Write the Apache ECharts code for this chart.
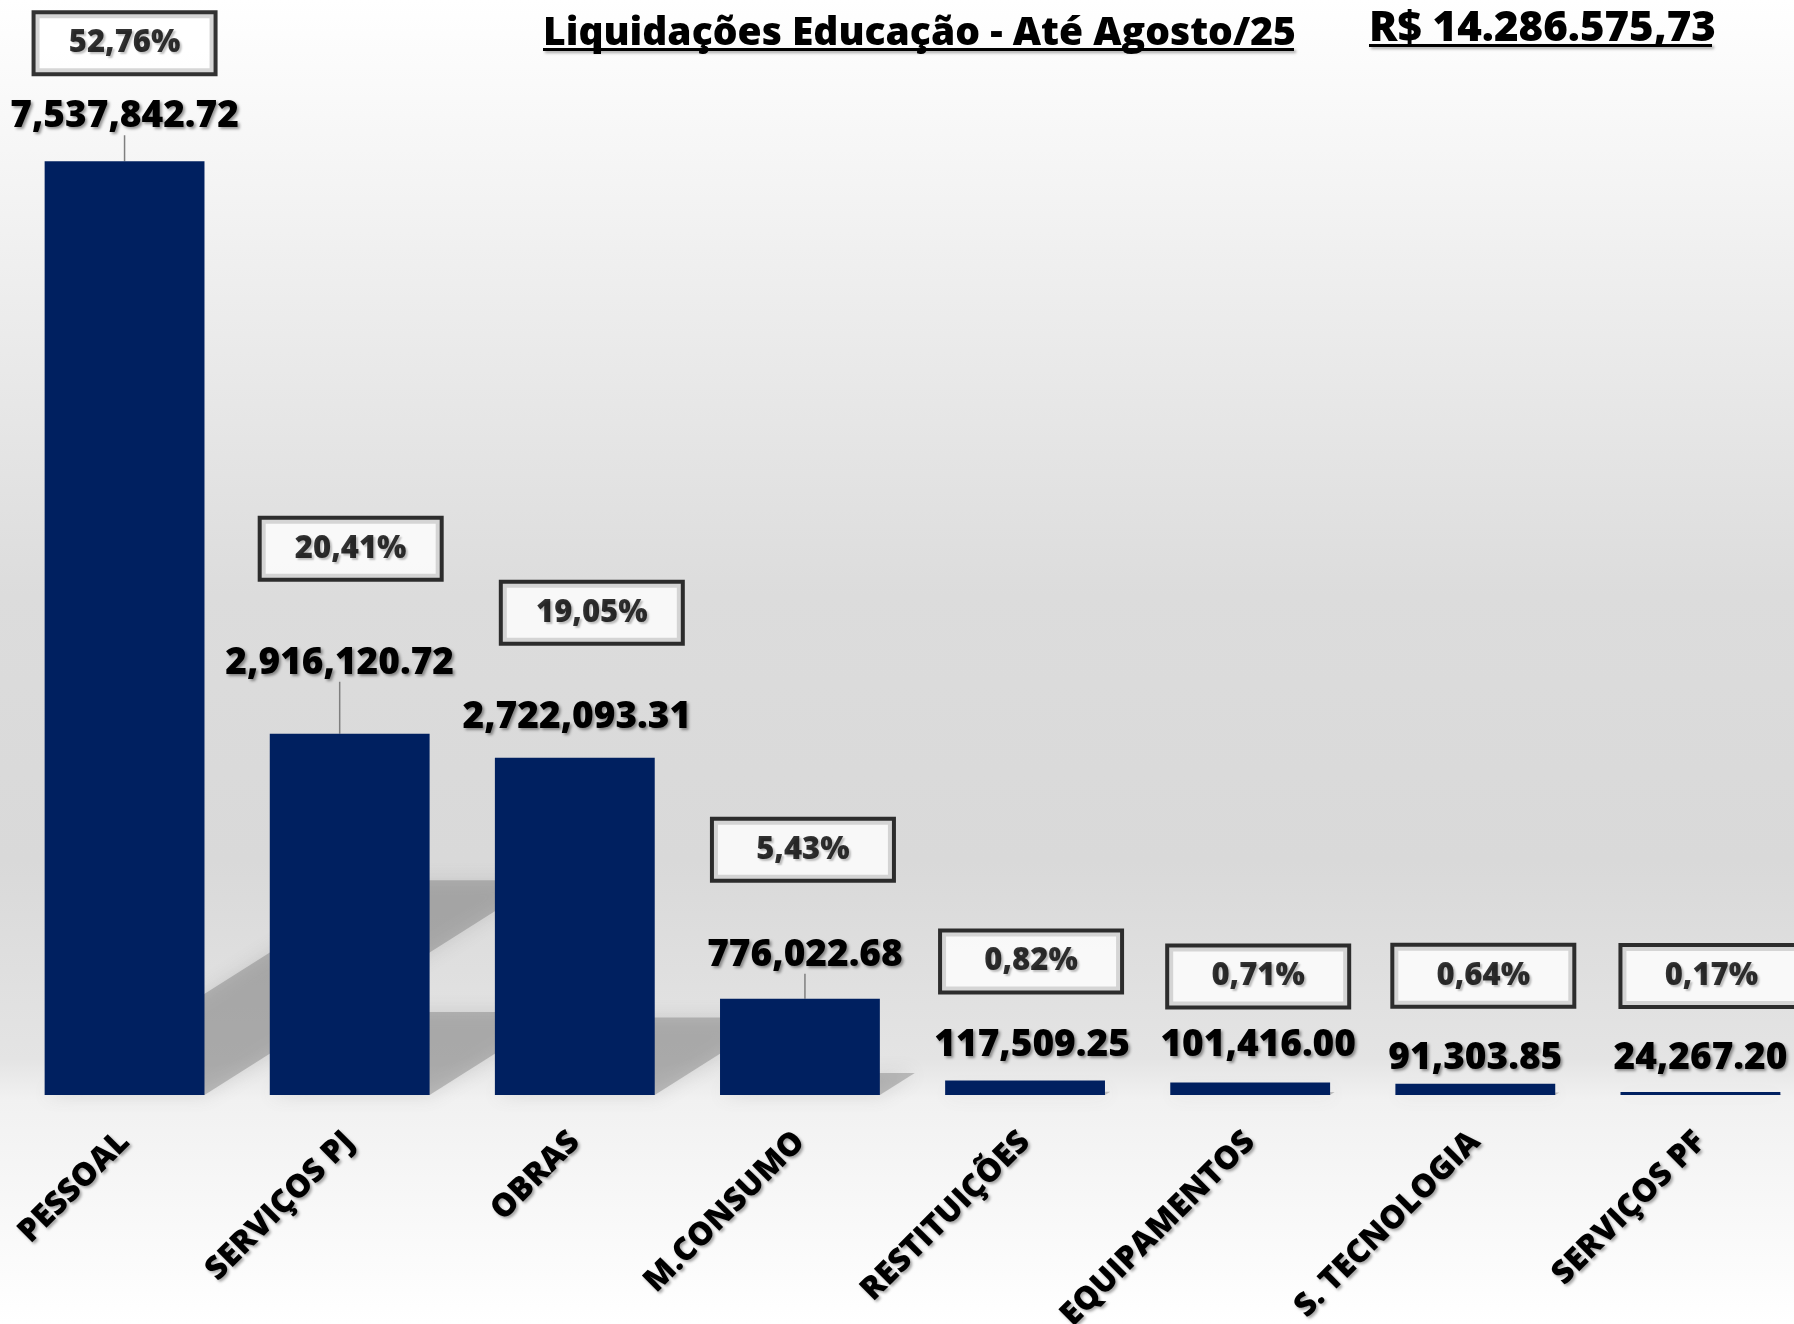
<!DOCTYPE html>
<html>
<head>
<meta charset="utf-8">
<script src="https://cdn.jsdelivr.net/npm/echarts@6/dist/echarts.min.js"></script>
<style>
html,body{margin:0;padding:0;background:#fff;}
#chart{width:1794px;height:1324px;}
</style>
</head>
<body>
<div id="chart"></div>
<script>
// ---- data ----
const categories = ['PESSOAL','SERVIÇOS PJ','OBRAS','M.CONSUMO','RESTITUIÇÕES','EQUIPAMENTOS','S. TECNOLOGIA','SERVIÇOS PF'];
const values = [7537842.72, 2916120.72, 2722093.31, 776022.68, 117509.25, 101416.00, 91303.85, 24267.20];
const percentLabels = ['52,76%','20,41%','19,05%','5,43%','0,82%','0,71%','0,64%','0,17%'];
const titleText = 'Liquidações Educação - Até Agosto/25';
const totalText = 'R$ 14.286.575,73';

// ---- layout (label placement, px) ----
const valueLabelShift = [[0,-21],[-10,-47],[2,-17],[5,-20],[7,-11],[8,-13],[0,-2],[0,-10]];
const valueLeader = [true,true,false,true,false,false,false,false];
const pctBoxShift = [[0,-120],[1,-187],[17,-147],[3,-151],[6,-121],[8,-108],[8,-110],[11,-118]];
const BOX_H = 58;

const FONT = '"Open Sans", "Noto Sans", sans-serif';
const W = 800;
const SH = {shadowColor:'rgba(0,0,0,0.35)', shadowBlur:3, shadowOffsetX:2, shadowOffsetY:2};

function fmt(v){
  return v.toLocaleString('en-US',{minimumFractionDigits:2, maximumFractionDigits:2});
}

const chart = echarts.init(document.getElementById('chart'), null, {renderer:'canvas'});

const option = {
  animation:false,
  backgroundColor:{type:'linear',x:0,y:0,x2:0,y2:1,colorStops:[
    {offset:0,color:'#ffffff'},
    {offset:0.2,color:'#efefef'},
    {offset:0.45,color:'#dcdcdc'},
    {offset:0.65,color:'#d9d9d9'},
    {offset:0.8,color:'#e4e4e4'},
    {offset:0.83,color:'#f1f1f1'},
    {offset:1,color:'#ffffff'}
  ]},
  graphic:[
    {type:'text', left:543, top:14, style:Object.assign({text:titleText, font:W+' 39px '+FONT, fill:'#000'}, SH)},
    {type:'rect', shape:{x:543,y:48,width:751,height:3}, style:Object.assign({fill:'#000'}, SH)},
    {type:'text', left:1369, top:8, style:Object.assign({text:totalText, font:W+' 42px '+FONT, fill:'#000'}, SH)},
    {type:'rect', shape:{x:1369,y:44,width:343,height:3}, style:Object.assign({fill:'#000'}, SH)}
  ],
  grid:{left:12, top:104, width:1801, height:991, containLabel:false, outerBoundsMode:'none'},
  xAxis:{
    type:'category', data:categories,
    axisLine:{show:false}, axisTick:{show:false},
    axisLabel:{interval:0, rotate:45, margin:42, fontFamily:FONT, fontWeight:W, fontSize:32, color:'#000',
      textShadowColor:'rgba(0,0,0,0.35)', textShadowBlur:3, textShadowOffsetX:2, textShadowOffsetY:2}
  },
  yAxis:{type:'value', min:0, max:8000000, interval:1000000, show:false, splitLine:{show:false}},
  series:[
    {
      type:'custom', z:1, silent:true,
      data: values.map((v,i)=>[i,v]),
      renderItem:function(params, api){
        const i = api.value(0), v = api.value(1);
        const base = api.coord([i,0]);
        const top = api.coord([i,v]);
        const band = api.size([1,0])[0];
        const bw = band*0.71;
        const h = base[1]-top[1];
        const sh = h*0.23, shift = sh*1.58;
        const x0 = base[0]-bw/2, x1 = base[0]+bw/2, yb = base[1];
        return {type:'polygon', shape:{points:[[x0,yb],[x1,yb],[x1+shift,yb-sh],[x0+shift,yb-sh]]},
          style:{fill:'rgba(110,110,110,0.38)', shadowColor:'rgba(110,110,110,0.5)', shadowBlur:18}};
      }
    },
    {
      type:'bar', z:3, barCategoryGap:'29%',
      itemStyle:{color:'#002060'},
      data: values.map((v,i)=>({value:v, labelLine:{show:valueLeader[i]}})),
      label:{show:true, position:'top', distance:5, formatter:p=>fmt(p.value),
        fontFamily:FONT, fontWeight:W, fontSize:37, color:'#000',
        textShadowColor:'rgba(0,0,0,0.4)', textShadowBlur:3, textShadowOffsetX:2, textShadowOffsetY:2},
      labelLine:{show:false, lineStyle:{color:'#7f7f7f', width:1.5}},
      labelLayout:function(p){ const s = valueLabelShift[p.dataIndex]; return {dx:s[0], dy:s[1]}; }
    },
    {
      type:'scatter', z:5, symbolSize:0, silent:true,
      itemStyle:{color:'#000'},
      data: values.map((v,i)=>({value:[i,v], label:{offset:[pctBoxShift[i][0], pctBoxShift[i][1] + BOX_H/2 + 2]}})),
      label:{show:true, position:'top', distance:0, formatter:p=>percentLabels[p.dataIndex],
        fontFamily:FONT, fontWeight:W, fontSize:31, color:'#000',
        textBorderWidth:0,
        backgroundColor:'#ffffff', borderColor:'#000000', borderWidth:4, borderRadius:0,
        width:178, height:BOX_H, lineHeight:BOX_H, align:'center',
        textShadowColor:'rgba(0,0,0,0.3)', textShadowBlur:2, textShadowOffsetX:2, textShadowOffsetY:2}
    }
  ]
};
chart.setOption(option);
</script>
</body>
</html>
